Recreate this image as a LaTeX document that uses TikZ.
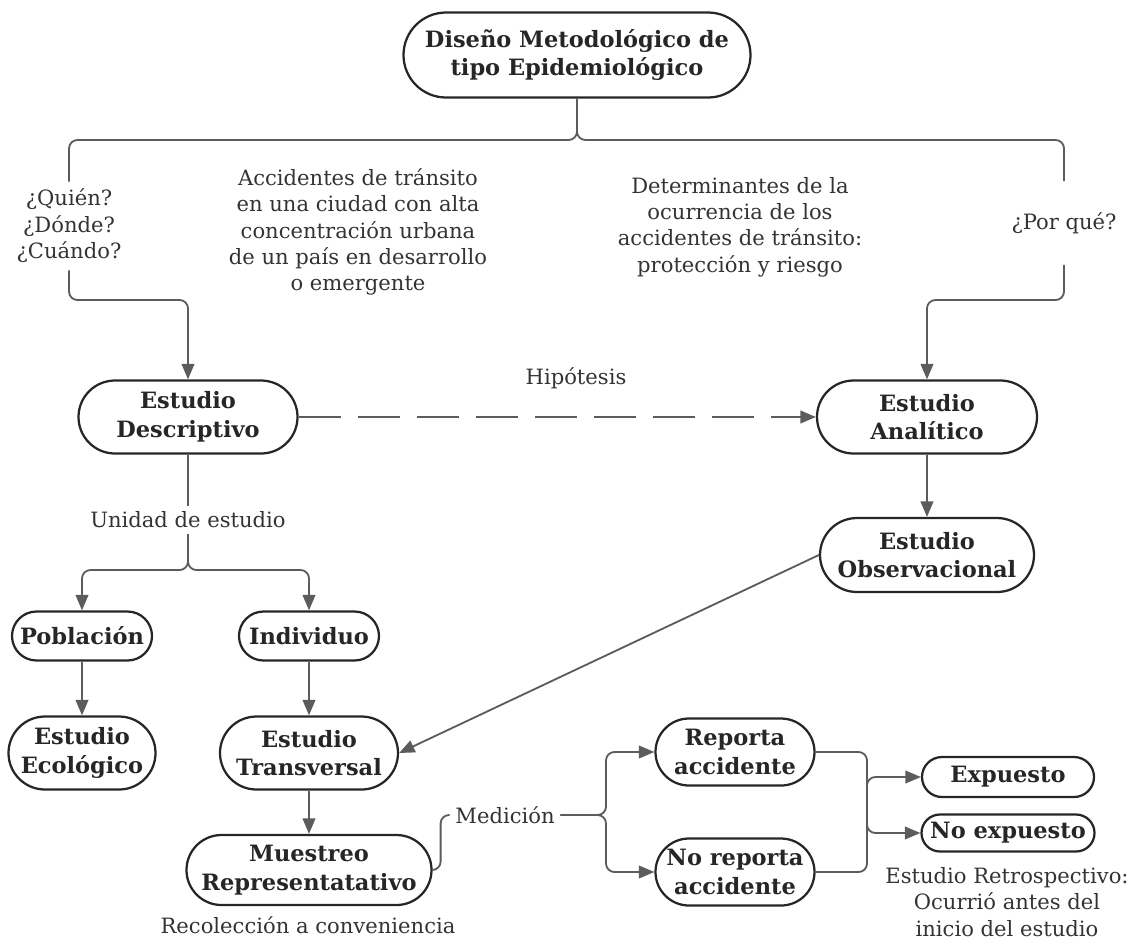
\documentclass[tikz,border=0pt]{standalone}
\usepackage{fontspec}
\setmainfont{DejaVu Serif}
\usetikzlibrary{arrows.meta}

\definecolor{ink}{HTML}{262626}
\definecolor{wire}{HTML}{5C5C5C}
\definecolor{txt}{HTML}{333333}

\begin{document}
\begin{tikzpicture}[x=0.025cm, y=-0.025cm,
    every node/.style={font=\fontsize{15}{18.8}\selectfont, text=txt, align=center, inner sep=4pt},
    caja/.style 2 args={draw=ink, line width=1.6pt, inner sep=0pt,
      font=\fontsize{16}{20.4}\selectfont\bfseries, text=ink,
      minimum width=#1*0.025cm, minimum height=#2*0.025cm, rounded corners=#2*0.0125cm},
    linea/.style={draw=wire, line width=1.3pt, rounded corners=6pt},
    flecha/.style={linea, -{Triangle[length=11pt, width=9pt]}},
  ]
  \useasboundingbox (0,0) rectangle (1137,949);

  % nodos
  \node[caja={347}{85}] (diseno) at (577,55) {Diseño Metodológico de\\tipo Epidemiológico};
  \node[minimum height=88*0.025cm] (quien) at (69,226) {¿Quién?\\¿Dónde?\\¿Cuándo?};
  \node (accid) at (358,232) {Accidentes de tránsito\\en una ciudad con alta\\concentración urbana\\de un país en desarrollo\\o emergente};
  \node (determ) at (740,227) {Determinantes de la\\ocurrencia de los\\accidentes de tránsito:\\protección y riesgo};
  \node[minimum height=83*0.025cm] (porque) at (1064,223) {¿Por qué?};
  \node[caja={219}{73}] (descr) at (188,417) {Estudio\\Descriptivo};
  \node[caja={220}{73}] (analit) at (927,417) {Estudio\\Analítico};
  \node (hipot) at (576,378) {Hipótesis};
  \node[caja={214}{74}] (observ) at (927,555) {Estudio\\Observacional};
  \node (unidad) at (188,520) {Unidad de estudio};
  \node[caja={140}{49}] (poblac) at (82,636) {Población};
  \node[caja={140}{49}] (indiv) at (309,636) {Individuo};
  \node[caja={147}{73}] (ecolog) at (82,753) {Estudio\\Ecológico};
  \node[caja={178}{73}] (transv) at (309,753) {Estudio\\Transversal};
  \node[caja={245}{70}] (muestreo) at (309,870) {Muestreo\\Representatativo};
  \node (recolec) at (308,925) {Recolección a conveniencia};
  \node (medicion) at (505,815) {Medición};
  \node[caja={159}{67}] (reporta) at (735,752) {Reporta\\accidente};
  \node[caja={159}{67}] (noreporta) at (735,872) {No reporta\\accidente};
  \node[caja={172}{40}] (expuesto) at (1008,777) {Expuesto};
  \node[caja={173}{37}] (noexpuesto) at (1008,833) {No expuesto};
  \node (retro) at (1007,902) {Estudio Retrospectivo:\\Ocurrió antes del\\inicio del estudio};

  % conectores
  \coordinate (ramaSup) at (577,140);
  \coordinate (q2) at (188,300);
  \coordinate (p2) at (927,300);
  \coordinate (ramaUni) at (188,570);
  \coordinate (ramaMed) at (606,815);
  \coordinate (ramaExp) at (867,812);

  \draw[linea] (diseno.south) -- (ramaSup) -| (quien.north);
  \draw[linea] (diseno.south) -- (ramaSup) -| (porque.north);
  \draw[flecha] (quien.south) |- (q2) -- (descr.north);
  \draw[flecha] (porque.south) |- (p2) -- (analit.north);
  \draw[flecha, dash pattern=on 30pt off 12pt] (descr.east) -- (analit.west);
  \draw[linea] (descr.south) -- (unidad.north);
  \draw[flecha] (unidad.south) -- (ramaUni) -| (poblac.north);
  \draw[flecha] (unidad.south) -- (ramaUni) -| (indiv.north);
  \draw[flecha] (poblac) -- (ecolog);
  \draw[flecha] (indiv) -- (transv);
  \draw[flecha] (transv) -- (muestreo);
  \draw[flecha] (analit) -- (observ);
  \draw[flecha] (observ.west) -- (transv.east);
  \draw[linea] (muestreo.east) -- ++(8,0) |- (medicion.west);
  \draw[flecha] (medicion.east) -- (ramaMed) |- (reporta.west);
  \draw[flecha] (medicion.east) -- (ramaMed) |- (noreporta.west);
  \draw[linea] (reporta.east) -| (ramaExp) |- (noreporta.east);
  \draw[flecha] (ramaExp) |- (expuesto.west);
  \draw[flecha] (ramaExp) |- (noexpuesto.west);
\end{tikzpicture}
\end{document}
